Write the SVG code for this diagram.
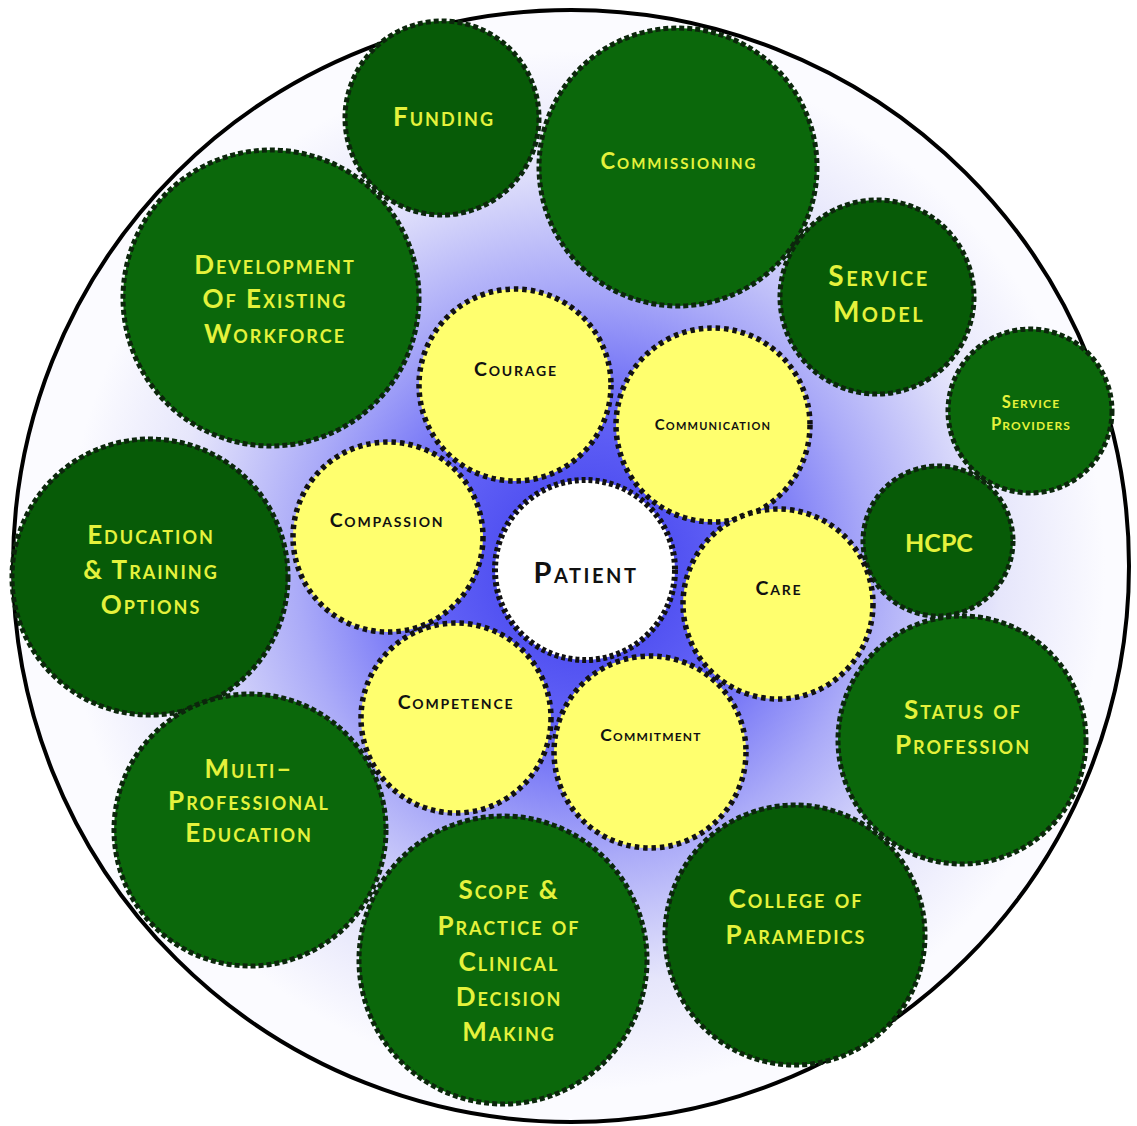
<svg xmlns="http://www.w3.org/2000/svg" width="1137" height="1126" viewBox="0 0 1137 1126">
  <defs>
    <radialGradient id="glow" cx="585" cy="570" r="520" gradientUnits="userSpaceOnUse">
      <stop offset="0" stop-color="#3c3cec"/>
      <stop offset="0.3" stop-color="#6262f6"/>
      <stop offset="0.55" stop-color="#aaaaf8"/>
      <stop offset="0.8" stop-color="#e6e6fb"/>
      <stop offset="1" stop-color="#fbfbff"/>
    </radialGradient>
    <style>
      .outer { fill: url(#glow); stroke: #000; stroke-width: 4; }
      .green { fill: #0b680b; stroke: #0c260c; stroke-width: 5; stroke-dasharray: 5 3; }
      .green.dk { fill: #075b07; }
      .yellow { fill: #ffff6e; stroke: #111; stroke-width: 5.5; stroke-dasharray: 4.5 4; }
      .patient { fill: #fff; stroke: #111; stroke-width: 6; stroke-dasharray: 4 3; }
      text { font-family: Lato, "Open Sans", "Liberation Sans", sans-serif; font-weight: 700; font-variant: small-caps; text-anchor: middle; }
      .gt { fill: #e4f23c; font-size: 26px; letter-spacing: 2px; }
      .gm { fill: #e4f23c; font-size: 28px; letter-spacing: 2.5px; }
      .gs { fill: #e4f23c; font-size: 22px; letter-spacing: 2px; }
      .gx { fill: #e4f23c; font-size: 16.5px; letter-spacing: 1.2px; }
      .hc { fill: #e4f23c; font-size: 25px; }
      .yt { fill: #111; font-size: 19.5px; letter-spacing: 1.8px; }
      .ym { fill: #111; font-size: 17.5px; letter-spacing: 1.2px; }
      .ys { fill: #111; font-size: 15px; letter-spacing: 1.2px; }
      .pt { fill: #111; font-size: 29px; letter-spacing: 2.5px; }
    </style>
  </defs>

  <rect width="1137" height="1126" fill="#fff"/>
  <ellipse class="outer" cx="571" cy="566" rx="558" ry="556"/>

  <!-- outer ring of green factors -->
  <g id="funding"><circle class="green dk" cx="442" cy="118" r="97"/><text class="gt" x="444" y="126">Funding</text></g>
  <g id="commissioning"><circle class="green" cx="678" cy="167" r="139"/><text class="gs" x="679" y="169">Commissioning</text></g>
  <g id="development"><circle class="green" cx="271" cy="298" r="148"/>
    <text class="gt" x="275" y="274">Development</text><text class="gt" x="275" y="308">Of Existing</text><text class="gt" x="275" y="343">Workforce</text></g>
  <g id="service-model"><circle class="green dk" cx="877" cy="297" r="97"/>
    <text class="gm" x="879" y="286">Service</text><text class="gm" x="879" y="322">Model</text></g>
  <g id="service-providers"><circle class="green" cx="1030" cy="411" r="82"/>
    <text class="gx" x="1031" y="408">Service</text><text class="gx" x="1031" y="430">Providers</text></g>
  <g id="hcpc"><circle class="green dk" cx="938" cy="541" r="75"/><text class="hc" x="939" y="552">HCPC</text></g>
  <g id="education"><circle class="green dk" cx="150" cy="577" r="138"/>
    <text class="gt" x="151" y="544">Education</text><text class="gt" x="151" y="579">&amp; Training</text><text class="gt" x="151" y="614">Options</text></g>
  <g id="status"><circle class="green" cx="962" cy="740" r="124"/>
    <text class="gt" x="963" y="719">Status of</text><text class="gt" x="963" y="754">Profession</text></g>
  <g id="multi-professional"><circle class="green" cx="250" cy="830" r="136"/>
    <text class="gt" x="249" y="778">Multi–</text><text class="gt" x="249" y="810">Professional</text><text class="gt" x="249" y="842">Education</text></g>
  <g id="scope"><circle class="green" cx="503" cy="960" r="144"/>
    <text class="gt" x="509" y="899">Scope &amp;</text><text class="gt" x="509" y="935">Practice of</text><text class="gt" x="509" y="971">Clinical</text><text class="gt" x="509" y="1006">Decision</text><text class="gt" x="509" y="1041">Making</text></g>
  <g id="college"><circle class="green dk" cx="795" cy="935" r="130"/>
    <text class="gt" x="796" y="908">College of</text><text class="gt" x="796" y="944">Paramedics</text></g>

  <!-- inner ring of yellow values -->
  <g id="courage"><circle class="yellow" cx="515" cy="385" r="96"/><text class="yt" x="516" y="376">Courage</text></g>
  <g id="communication"><circle class="yellow" cx="713" cy="425" r="97"/><text class="ys" x="713" y="430">Communication</text></g>
  <g id="compassion"><circle class="yellow" cx="388" cy="537" r="95"/><text class="yt" x="387" y="527">Compassion</text></g>
  <g id="care"><circle class="yellow" cx="778" cy="604" r="95"/><text class="yt" x="779" y="595">Care</text></g>
  <g id="competence"><circle class="yellow" cx="456" cy="718" r="95"/><text class="yt" x="456" y="709">Competence</text></g>
  <g id="commitment"><circle class="yellow" cx="650" cy="752" r="96"/><text class="ym" x="651" y="741">Commitment</text></g>

  <!-- centre -->
  <g id="patient"><circle class="patient" cx="585" cy="570" r="90"/><text class="pt" x="586" y="583">Patient</text></g>
</svg>
